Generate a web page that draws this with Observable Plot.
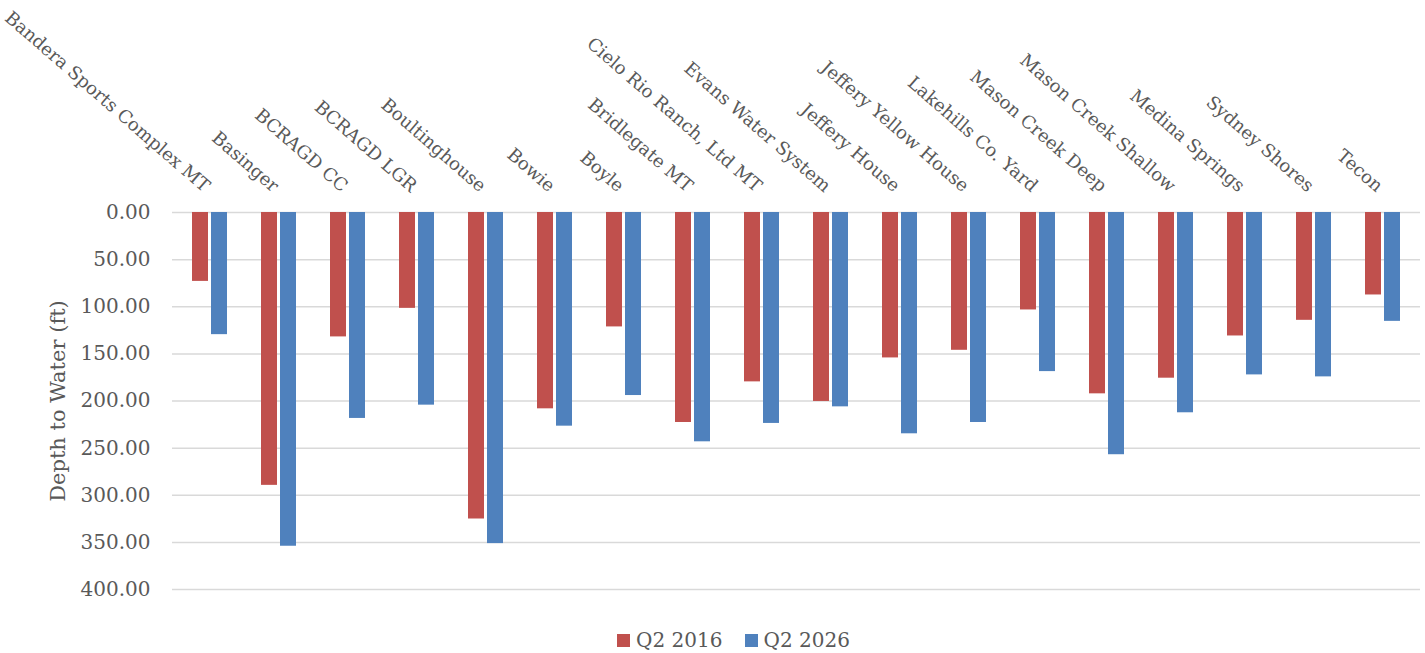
<!DOCTYPE html>
<html><head><meta charset="utf-8">
<script src="https://cdn.jsdelivr.net/npm/d3@7"></script>
<script src="https://cdn.jsdelivr.net/npm/@observablehq/plot@0.6"></script>
<style>
html,body{margin:0;padding:0;background:#fff;}
body{font-family:"DejaVu Serif",serif;color:#595959;width:1425px;height:653px;overflow:hidden;}
#legend{display:flex;justify-content:center;align-items:center;gap:22px;font-size:20px;height:40px;margin-left:42px;margin-top:8px;}
#legend .item{display:flex;align-items:center;gap:6px;}
#legend .sw{width:13px;height:13px;display:inline-block;}
</style></head><body>
<div id="chart"></div>
<div id="legend"></div>
<script>
const sites = ["Bandera Sports Complex MT","Basinger","BCRAGD CC","BCRAGD LGR","Boultinghouse","Bowie","Boyle","Bridlegate MT","Cielo Rio Ranch, Ltd MT","Evans Water System","Jeffery House","Jeffery Yellow House","Lakehills Co. Yard","Mason Creek Deep","Mason Creek Shallow","Medina Springs","Sydney Shores","Tecon"];
const q2016 = [73.1, 289.5, 132.0, 101.7, 325.2, 208.3, 121.4, 222.8, 179.7, 200.5, 154.3, 146.2, 103.4, 192.4, 175.8, 131.0, 114.4, 87.5];
const q2026 = [129.6, 354.1, 218.5, 204.4, 351.3, 226.7, 194.2, 243.3, 223.8, 206.2, 234.8, 222.8, 168.8, 257.0, 212.5, 172.3, 174.4, 115.5];
const seriesNames = ["Q2 2016", "Q2 2026"];
const seriesColors = ["#C0504D", "#4F81BD"];
const yTicks = [0, 50, 100, 150, 200, 250, 300, 350, 400];
const yTitle = "Depth to Water (ft)";

const rows = sites.map((s, i) => ({site: s, a: q2016[i], b: q2026[i]}));

const chart = Plot.plot({
  width: 1425,
  height: 612,
  marginTop: 212,
  marginLeft: 172,
  marginRight: 5,
  marginBottom: 23,
  style: {fontSize: "20px", fontFamily: "DejaVu Serif", color: "#595959", background: "#fff"},
  x: {type: "band", domain: sites, paddingInner: 0.5, paddingOuter: 0.25},
  y: {domain: [0, 400], reverse: true},
  marks: [
    Plot.gridY(yTicks, {stroke: "#d9d9d9", strokeOpacity: 1, strokeWidth: 1.5}),
    Plot.barY(rows, {x: "site", y: "a", fill: seriesColors[0], insetRight: 19}),
    Plot.barY(rows, {x: "site", y: "b", fill: seriesColors[1], insetLeft: 19}),
    Plot.axisY(yTicks, {tickSize: 0, tickPadding: 22, tickFormat: d3.format(".2f"), label: null}),
    Plot.text([yTitle], {frameAnchor: "left", textAnchor: "middle", lineAnchor: "middle", rotate: -90, dx: -114, fontSize: 21, fill: "#595959"}),
    Plot.axisX({anchor: "top", tickSize: 0, tickPadding: 24, tickRotate: 41, textAnchor: "end", fontSize: 18, dx: -3, label: null})
  ]
});
document.getElementById("chart").appendChild(chart);

const lg = document.getElementById("legend");
seriesNames.forEach((n, i) => {
  const it = document.createElement("span");
  it.className = "item";
  it.innerHTML = `<span class="sw" style="background:${seriesColors[i]}"></span><span>${n}</span>`;
  lg.appendChild(it);
});
</script>
</body></html>
